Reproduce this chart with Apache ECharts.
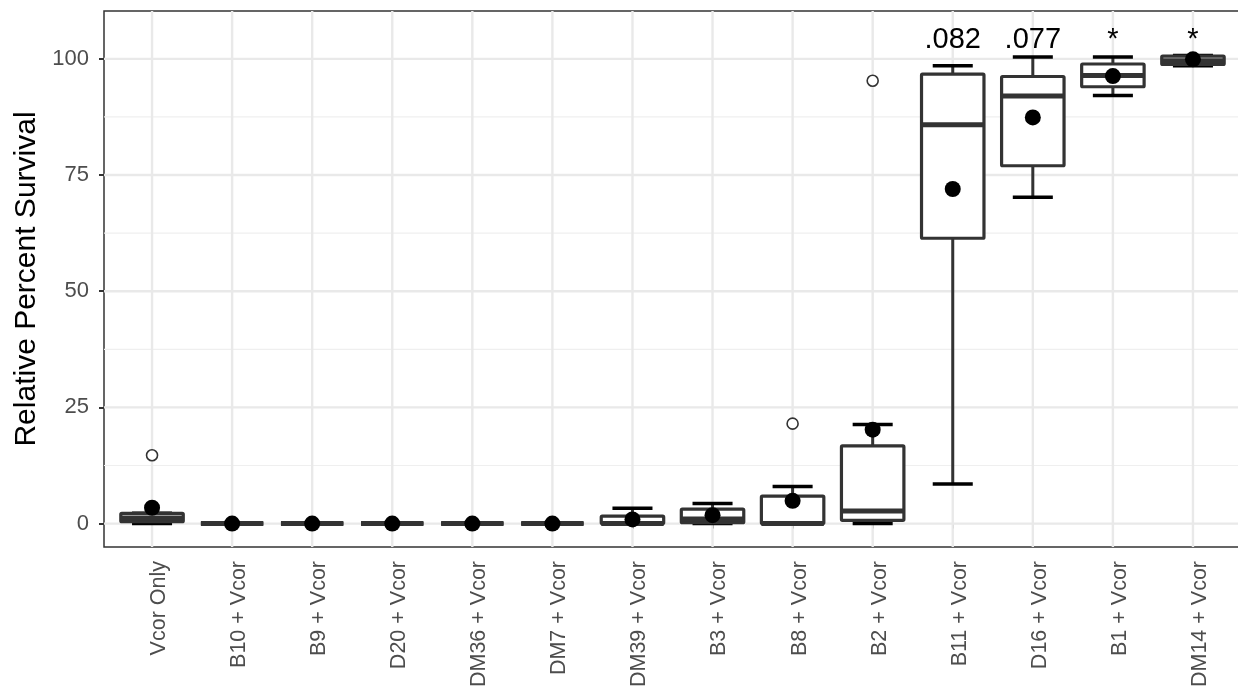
<!DOCTYPE html>
<html>
<head>
<meta charset="utf-8">
<script src="https://cdn.jsdelivr.net/npm/echarts@6/dist/echarts.min.js"></script>
<style>
html,body{margin:0;padding:0;background:#fff;}
#chart{width:1238px;height:690px;}
</style>
</head>
<body>
<div id="chart"></div>
<script>
// ---- data ----
const categories = ['Vcor Only','B10 + Vcor','B9 + Vcor','D20 + Vcor','DM36 + Vcor','DM7 + Vcor','DM39 + Vcor','B3 + Vcor','B8 + Vcor','B2 + Vcor','B11 + Vcor','D16 + Vcor','B1 + Vcor','DM14 + Vcor'];
const whiskerLow  = [0, 0, 0, 0, 0, 0, 0,   0,   0,   0,    8.5, 70.2, 92.1, 98.5];
const q1          = [0.4, 0, 0, 0, 0, 0, 0, 0.2, 0,   0.7, 61.4, 77.0, 94.0, 98.8];
const median      = [1.2, 0, 0, 0, 0, 0, 0, 1.0, 0,   2.7, 85.8, 92.0, 96.4, 99.6];
const q3          = [2.2, 0, 0, 0, 0, 0, 1.6, 3.1, 5.9, 16.7, 96.7, 96.2, 98.9, 100.6];
const whiskerHigh = [2.2, 0, 0, 0, 0, 0, 3.3, 4.3, 8.0, 21.3, 98.5, 100.4, 100.4, 100.7];
const means       = [3.4, 0, 0, 0, 0, 0, 0.9, 1.8, 4.9, 20.2, 72.0, 87.4, 96.3, 99.9];
const outlierCats   = ['Vcor Only', 'B8 + Vcor', 'B2 + Vcor'];
const outlierValues = [14.7, 21.5, 95.3];
const annotCats   = ['B11 + Vcor', 'D16 + Vcor', 'B1 + Vcor', 'DM14 + Vcor'];
const annotLabels = ['.082', '.077', '*', '*'];
const annotY = 104;
const yTicks = [0, 25, 50, 75, 100];
const yMinorTicks = [12.5, 37.5, 62.5, 87.5];

// ---- build ----
const FONT = '"Liberation Sans", Arial, sans-serif';
const catPos = categories.map((c, i) => i + 1);
const xMin = 0.4, xMax = categories.length + 0.6;
const yMin = -5.04, yMax = 110.3;

const boxData = categories.map((c, i) => [i + 1, whiskerLow[i], q1[i], median[i], q3[i], whiskerHigh[i]]);
const meanData = categories.map((c, i) => [i + 1, means[i]]);
const outlierData = outlierCats.map((c, k) => [categories.indexOf(c) + 1, outlierValues[k]]);
const annotData = annotCats.map((c, k) => [categories.indexOf(c) + 1, annotY, annotLabels[k]]);

const gridData = yTicks.map(v => ['h', v, 1]).concat(yMinorTicks.map(v => ['h', v, 0])).concat(catPos.map(v => ['v', v, 1]));

const chart = echarts.init(document.getElementById('chart'), null, {renderer: 'canvas'});
chart.setOption({
  animation: false,
  backgroundColor: '#ffffff',
  grid: {
    left: 104, right: -3, top: 11, bottom: 143,
    show: true, borderColor: '#333333', borderWidth: 1.5, backgroundColor: '#ffffff',
    containLabel: false, outerBoundsMode: 'none'
  },
  xAxis: {
    type: 'value', min: xMin, max: xMax,
    axisLine: {show: false},
    splitLine: {show: false},
    axisTick: {show: true, length: 5, lineStyle: {color: '#333333', width: 2}, customValues: catPos},
    axisLabel: {
      customValues: catPos, rotate: 90, margin: 14,
      color: '#4d4d4d', fontSize: 21.5, fontFamily: FONT,
      verticalAlign: 'top', lineHeight: 14,
      formatter: v => categories[Math.round(v) - 1] || ''
    }
  },
  yAxis: {
    type: 'value', min: yMin, max: yMax,
    name: 'Relative Percent Survival', nameLocation: 'middle', nameGap: 58,
    nameTextStyle: {color: '#000000', fontSize: 30, fontFamily: FONT},
    axisLine: {show: false},
    splitLine: {show: false},
    axisTick: {show: true, length: 5, lineStyle: {color: '#333333', width: 2}, customValues: yTicks},
    axisLabel: {customValues: yTicks, margin: 15, color: '#4d4d4d', fontSize: 22, fontFamily: FONT}
  },
  series: [
    {
      type: 'custom', z: 1, silent: true,
      data: gridData,
      renderItem: function (params, api) {
        const d = gridData[params.dataIndex];
        let p1, p2;
        if (d[0] === 'h') { p1 = api.coord([xMin, d[1]]); p2 = api.coord([xMax, d[1]]); }
        else { p1 = api.coord([d[1], yMin]); p2 = api.coord([d[1], yMax]); }
        return {type: 'line', shape: {x1: p1[0], y1: p1[1], x2: p2[0], y2: p2[1]},
          style: {stroke: d[2] ? '#e9e9e9' : '#efefef', lineWidth: d[2] ? 2.4 : 1.2}};
      }
    },
    {
      type: 'custom', z: 2, silent: true,
      data: boxData,
      encode: {x: 0, y: [1, 2, 3, 4, 5]},
      renderItem: function (params, api) {
        const x = api.value(0);
        const lo = api.coord([x, api.value(1)]);
        const b1 = api.coord([x, api.value(2)]);
        const md = api.coord([x, api.value(3)]);
        const b3 = api.coord([x, api.value(4)]);
        const hi = api.coord([x, api.value(5)]);
        const unit = api.size([1, 0])[0];
        const bw = unit * 0.78, cw = unit * 0.5;
        const cx = lo[0];
        return {
          type: 'group',
          children: [
            {type: 'line', shape: {x1: cx, y1: lo[1], x2: cx, y2: hi[1]}, style: {stroke: '#333333', lineWidth: 3}},
            {type: 'line', shape: {x1: cx - cw / 2, y1: lo[1], x2: cx + cw / 2, y2: lo[1]}, style: {stroke: '#000000', lineWidth: 3.5}},
            {type: 'line', shape: {x1: cx - cw / 2, y1: hi[1], x2: cx + cw / 2, y2: hi[1]}, style: {stroke: '#000000', lineWidth: 3.5}},
            {type: 'rect', shape: {x: cx - bw / 2, y: b3[1], width: bw, height: b1[1] - b3[1], r: 1},
              style: {fill: '#ffffff', stroke: '#333333', lineWidth: 3.2}},
            {type: 'line', shape: {x1: cx - bw / 2, y1: md[1], x2: cx + bw / 2, y2: md[1]}, style: {stroke: '#333333', lineWidth: 5}}
          ]
        };
      }
    },
    {
      type: 'scatter', z: 3, silent: true,
      data: outlierData,
      symbol: 'circle', symbolSize: 11,
      itemStyle: {color: '#ffffff', borderColor: '#333333', borderWidth: 1.6, opacity: 1}
    },
    {
      type: 'scatter', z: 4, silent: true,
      data: meanData,
      symbol: 'circle', symbolSize: 16,
      itemStyle: {color: '#000000', borderWidth: 0, opacity: 1}
    },
    {
      type: 'custom', z: 5, silent: true,
      data: annotData,
      renderItem: function (params, api) {
        const d = annotData[params.dataIndex];
        const p = api.coord([d[0], d[1]]);
        return {type: 'text', x: p[0], y: p[1],
          style: {text: d[2], fill: '#000000', fontSize: 29, fontFamily: FONT, align: 'center', verticalAlign: 'middle'}};
      }
    }
  ]
});
</script>
</body>
</html>
